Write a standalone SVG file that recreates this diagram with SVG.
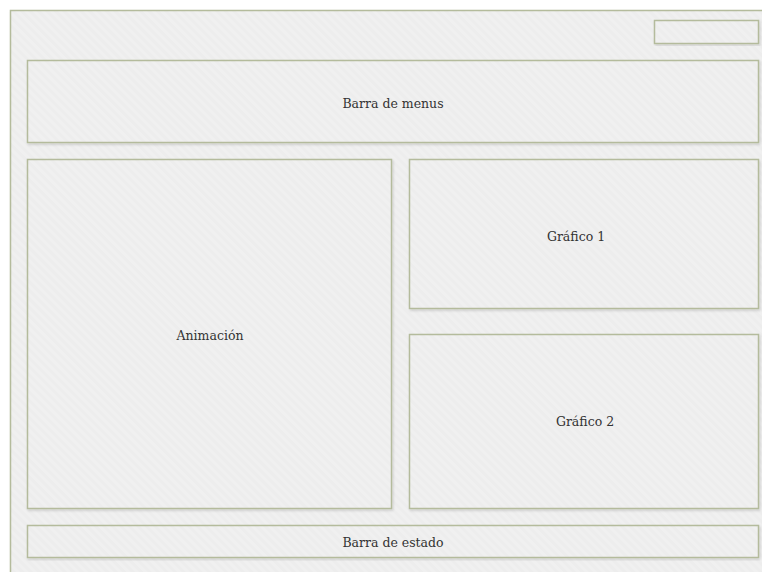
<svg xmlns="http://www.w3.org/2000/svg" width="762" height="572" viewBox="0 0 762 572">
  <defs>
    <pattern id="stripes" patternUnits="userSpaceOnUse" width="6" height="6" patternTransform="rotate(-45)">
      <rect width="6" height="6" fill="#f0f0f0"/>
      <rect width="3" height="6" fill="#ededed"/>
    </pattern>
    <filter id="shadow" x="-5%" y="-5%" width="110%" height="115%">
      <feDropShadow dx="1" dy="1.5" stdDeviation="1" flood-color="#000" flood-opacity="0.15"/>
    </filter>
  </defs>
  <style>
    .box { fill: url(#stripes); stroke: #b4bb9c; stroke-width: 1.5; filter: url(#shadow); }
    .label { font-family: "DejaVu Serif", serif; font-size: 12.5px; fill: #333333; text-anchor: middle; }
  </style>
  <rect width="762" height="572" fill="#ffffff"/>
  <g id="window">
    <rect class="box" x="10.5" y="10.5" width="770" height="580"/>
  </g>
  <g id="title-button">
    <rect class="box" x="654.5" y="20.5" width="104" height="23"/>
  </g>
  <g id="menu-bar">
    <rect class="box" x="27.5" y="60.5" width="731" height="82"/>
    <text class="label" x="393" y="108">Barra de menus</text>
  </g>
  <g id="animation">
    <rect class="box" x="27.5" y="159.5" width="364" height="349"/>
    <text class="label" x="210" y="340">Animación</text>
  </g>
  <g id="chart-1">
    <rect class="box" x="409.5" y="159.5" width="349" height="149"/>
    <text class="label" x="576" y="241">Gráfico 1</text>
  </g>
  <g id="chart-2">
    <rect class="box" x="409.5" y="334.5" width="349" height="174"/>
    <text class="label" x="585" y="426">Gráfico 2</text>
  </g>
  <g id="status-bar">
    <rect class="box" x="27.5" y="525.5" width="731" height="32"/>
    <text class="label" x="393" y="547">Barra de estado</text>
  </g>
  <g id="connectors"/>
</svg>
